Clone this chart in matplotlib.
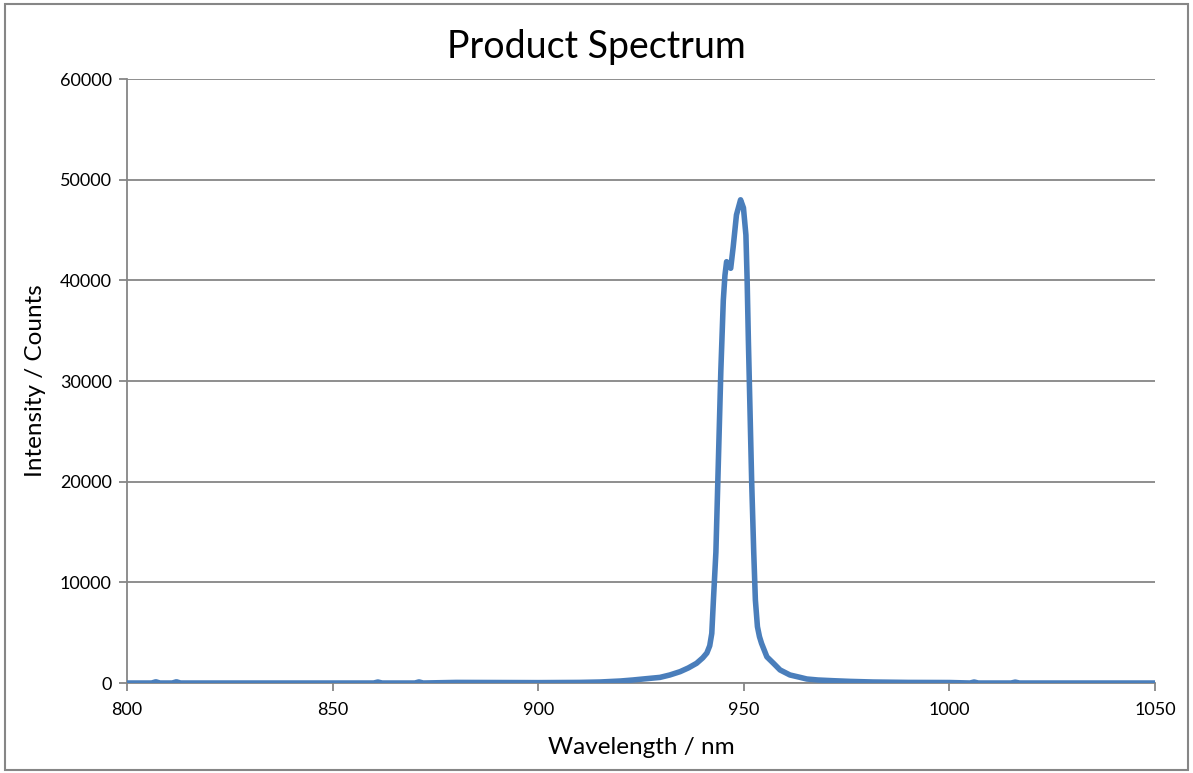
import matplotlib.pyplot as plt
from matplotlib.patches import Rectangle

# Spectrum points (wavelength in nm, counts)
wavelength = [800, 806, 807, 808, 811, 812, 813, 860, 861, 862, 870, 871, 872,
              880, 890, 900, 910, 915, 920, 923, 926, 929.6, 932, 934.5, 936.5,
              938.5, 940.0, 941.0, 941.7, 942.2, 942.6, 943.2, 943.8, 944.4,
              945.0, 945.4, 945.8, 946.3, 946.8, 947.4, 948.2, 949.2, 949.9,
              950.5, 950.8, 951.1, 951.5, 951.9, 952.4, 952.8, 953.3, 953.8,
              954.3, 955.6, 957.2, 958.8, 961.2, 963.7, 965.3, 968, 971.7,
              976, 981.4, 990, 1000, 1005, 1006, 1007, 1015, 1016, 1017, 1025,
              1050]
intensity = [0, 0, 120, 0, 0, 120, 0, 0, 100, 0, 0, 110, 0,
             60, 50, 40, 60, 100, 200, 300, 420, 560, 800, 1130, 1500,
             1960, 2500, 2980, 3700, 4930, 8250, 13000, 22000, 31000,
             38000, 40500, 41850, 41500, 41200, 43300, 46500, 48000, 47200,
             44500, 40000, 34000, 27000, 20000, 13000, 8250, 5600, 4600,
             3940, 2600, 1960, 1300, 800, 560, 400, 300, 230,
             160, 100, 60, 50, 0, 100, 0, 0, 90, 0, 0,
             0]

x_ticks = [800, 850, 900, 950, 1000, 1050]
y_ticks = [0, 10000, 20000, 30000, 40000, 50000, 60000]

plt.rcParams['font.family'] = ['Lato', 'DejaVu Sans']

fig = plt.figure(figsize=(11.93, 7.73), dpi=100)
ax = fig.add_axes([0.1065, 0.1164, 0.8617, 0.7814])

grid_col = '#868686'
ax.plot(wavelength, intensity, color='#4a7ebb', lw=4, solid_joinstyle='round',
        solid_capstyle='round', zorder=3)

ax.set_xlim(800, 1050)
ax.set_ylim(0, 60000)
ax.set_xticks(x_ticks)
ax.set_yticks(y_ticks)
ax.grid(axis='y', color=grid_col, lw=1.3)
ax.set_axisbelow(True)

for side in ['top', 'right']:
    ax.spines[side].set_visible(False)
for side in ['left', 'bottom']:
    ax.spines[side].set_color(grid_col)
    ax.spines[side].set_linewidth(1.3)

ax.tick_params(axis='both', direction='out', length=6, width=1.3, color=grid_col,
               labelsize=13, labelcolor='black', pad=5)
ax.tick_params(axis='x', pad=8)

# title is centred on the whole chart, not the plot area
fig.text(0.5, 0.925, 'Product Spectrum', fontsize=27, ha='center', va='baseline')
ax.set_xlabel('Wavelength / nm', fontsize=17.5, labelpad=13)
ax.set_ylabel('Intensity / Counts', fontsize=17.5, labelpad=10)

# border around the whole chart area
fig.patches.append(Rectangle((0.004, 0.004), 0.992, 0.991, transform=fig.transFigure,
                             fill=False, edgecolor=grid_col, lw=1.5))

fig.savefig('out.png', dpi=100)
